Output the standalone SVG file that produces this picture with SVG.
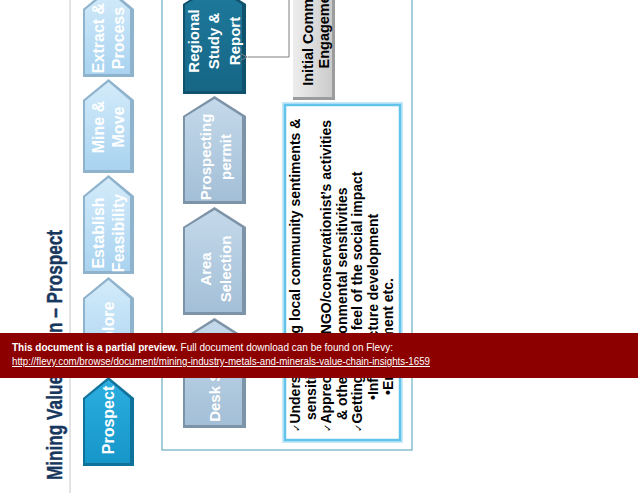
<svg xmlns="http://www.w3.org/2000/svg" width="638" height="493" viewBox="0 0 638 493">
<style>
  text { font-family: "Liberation Sans", Arial, sans-serif; font-weight: bold; }
  .lbl16 { font-size: 16px; fill: #ffffff; text-anchor: middle; }
  .lbl15 { font-size: 15px; fill: #ffffff; text-anchor: middle; }
  .blt { font-size: 14px; fill: #000000; }
  .ck { font-size: 10px; font-family: "DejaVu Sans", sans-serif; font-weight: normal; }
  .ice { font-size: 14.5px; fill: #000000; text-anchor: middle; }
  .ban { font-size: 10px; fill: #ffffff; }
  .reg { font-weight: normal; }
  .bevL { fill: #8FB2CD; }
  .faceL { fill: url(#gL); }
  .bevG { fill: #7D93A7; }
  .faceG { fill: url(#gG); }
  .conn { fill: none; stroke: #7F7F7F; stroke-width: 1; }
</style>
<defs>
  <linearGradient id="gL" x1="0" y1="0" x2="0" y2="1">
    <stop offset="0" stop-color="#D3EBFA"/>
    <stop offset="1" stop-color="#A9D3F0"/>
  </linearGradient>
  <linearGradient id="gG" x1="0" y1="0" x2="0" y2="1">
    <stop offset="0" stop-color="#C4D9EA"/>
    <stop offset="1" stop-color="#A3BFD7"/>
  </linearGradient>
  <linearGradient id="gR" x1="0" y1="0" x2="0" y2="1">
    <stop offset="0" stop-color="#1E7A9D"/>
    <stop offset="1" stop-color="#166685"/>
  </linearGradient>
  <linearGradient id="gP" x1="0" y1="0" x2="0" y2="1">
    <stop offset="0" stop-color="#2CAEE0"/>
    <stop offset="1" stop-color="#1696C9"/>
  </linearGradient>
  <linearGradient id="gI" x1="0" y1="0" x2="1" y2="0">
    <stop offset="0" stop-color="#EDEDED"/>
    <stop offset="1" stop-color="#CBCBCB"/>
  </linearGradient>
  <marker id="arr" markerWidth="8" markerHeight="8" refX="0" refY="4" orient="auto-start-reverse" markerUnits="userSpaceOnUse">
    <path d="M7,0.5 L0.5,4 L7,7.5" fill="none" stroke="#7F7F7F" stroke-width="1"/>
  </marker>
</defs>

<rect width="638" height="493" fill="#ffffff"/>

<!-- title -->
<g id="title">
  <text transform="translate(62,480) rotate(-90)" font-size="22" fill="#17375E" stroke="#17375E" stroke-width="0.4" textLength="250" lengthAdjust="spacingAndGlyphs">Mining Value Chain – Prospect</text>
</g>
<line x1="70" y1="0" x2="70" y2="493" stroke="#C8C8C8" stroke-width="1"/>

<!-- value chain (left column) -->
<g id="extract">
  <polygon class="bevL" points="83,77 83,9 108.5,-12 134,9 134,77"/>
  <polygon class="faceL" points="85,74 85,10 108.5,-9 130,9.5 130,74"/>
  <text class="lbl16" transform="translate(104,38) rotate(-90)">Extract &amp;</text>
  <text class="lbl16" transform="translate(124,38) rotate(-90)">Process</text>
</g>
<g id="mine">
  <polygon class="bevL" points="83,173 83,100 108.5,79 134,100 134,173"/>
  <polygon class="faceL" points="85,170 85,101 108.5,82 130,100.5 130,170"/>
  <text class="lbl16" transform="translate(104,127) rotate(-90)">Mine &amp;</text>
  <text class="lbl16" transform="translate(124,127) rotate(-90)">Move</text>
</g>
<g id="establish">
  <polygon class="bevL" points="83,274 83,196 108.5,175 134,196 134,274"/>
  <polygon class="faceL" points="85,271 85,197 108.5,178 130,196.5 130,271"/>
  <text class="lbl16" transform="translate(104,233) rotate(-90)">Establish</text>
  <text class="lbl16" transform="translate(124,233) rotate(-90)">Feasibility</text>
</g>
<g id="explore">
  <polygon class="bevL" points="83,373 83,298 108.5,277 134,298 134,373"/>
  <polygon class="faceL" points="85,370 85,299 108.5,280 130,298.5 130,370"/>
  <text class="lbl16" transform="translate(114,331) rotate(-90)">Explore</text>
</g>
<g id="prospect">
  <polygon fill="#0F729B" points="83,466 83,398 108.5,377 134,398 134,466"/>
  <polygon fill="url(#gP)" points="85,463 85,399 108.5,380 130,398.5 130,463"/>
  <text class="lbl16" transform="translate(114,420) rotate(-90)">Prospect</text>
</g>

<!-- frame -->
<rect x="162" y="-10" width="250" height="460" fill="none" stroke="#4E9DB6" stroke-width="1"/>

<!-- prospect steps -->
<g id="regional">
  <polygon fill="#0F526D" points="183,94 183,4 214.5,-16 246,4 246,94"/>
  <polygon fill="url(#gR)" points="185,91 185,5 214.5,-13 242,4.5 242,91"/>
  <text class="lbl15" transform="translate(199,41) rotate(-90)">Regional</text>
  <text class="lbl15" transform="translate(219,41) rotate(-90)">Study &amp;</text>
  <text class="lbl15" transform="translate(239.5,41) rotate(-90)">Report</text>
</g>
<g id="permit">
  <polygon class="bevG" points="183,204 183,116 214.5,96 246,116 246,204"/>
  <polygon class="faceG" points="185,201 185,117 214.5,99 242,116.5 242,201"/>
  <text class="lbl15" transform="translate(210.5,157) rotate(-90)">Prospecting</text>
  <text class="lbl15" transform="translate(230.5,157) rotate(-90)">permit</text>
</g>
<g id="area">
  <polygon class="bevG" points="183,315 183,227 214.5,207 246,227 246,315"/>
  <polygon class="faceG" points="185,312 185,228 214.5,210 242,227.5 242,312"/>
  <text class="lbl15" transform="translate(211,269) rotate(-90)">Area</text>
  <text class="lbl15" transform="translate(231,269) rotate(-90)">Selection</text>
</g>
<g id="desk">
  <polygon class="bevG" points="183,428 183,338 214.5,318 246,338 246,428"/>
  <polygon class="faceG" points="185,425 185,339 214.5,321 242,338.5 242,425"/>
  <text class="lbl15" transform="translate(220,381) rotate(-90)">Desk Study</text>
</g>

<!-- initial community engagement -->
<g id="engagement">
  <rect x="293" y="-10" width="42" height="110" fill="#9C9C9C"/>
  <rect x="293" y="-10" width="39" height="107" fill="url(#gI)"/>
  <text class="ice" transform="translate(312.5,25) rotate(-90)">Initial Community</text>
  <text class="ice" transform="translate(328.5,25) rotate(-90)">Engagement</text>
</g>

<!-- details box -->
<g id="details">
  <rect x="285" y="105" width="115" height="335" fill="#ffffff" stroke="#C6E9F8" stroke-width="6"/>
  <rect x="285" y="105" width="115" height="335" fill="#ffffff" stroke="#62C3EB" stroke-width="2.5"/>
  <text class="blt" transform="translate(300,432) rotate(-90)"><tspan class="ck">✓</tspan>Understanding local community sentiments &amp;</text>
  <text class="blt" transform="translate(315.5,420) rotate(-90)">sensitivities</text>
  <text class="blt" transform="translate(331,432) rotate(-90)"><tspan class="ck">✓</tspan>Appreciating NGO/conservationist’s activities</text>
  <text class="blt" transform="translate(346.5,420) rotate(-90)">&amp; other environmental sensitivities</text>
  <text class="blt" transform="translate(362,432) rotate(-90)"><tspan class="ck">✓</tspan>Getting a real feel of the social impact</text>
  <text class="blt" transform="translate(377.5,400) rotate(-90)">•Infrastructure development</text>
  <text class="blt" transform="translate(393,395) rotate(-90)">•Employment etc.</text>
</g>

<!-- connectors -->
<g id="connectors">
  <path class="conn" d="M289,-5 L289,57 L247.5,57" marker-end="url(#arr)"/>
</g>

<!-- preview banner -->
<g id="banner">
  <rect x="0" y="333" width="638" height="45" fill="#8C0000"/>
  <text class="ban" x="12" y="351">This document is a partial preview.<tspan class="reg">  Full document download can be found on Flevy:</tspan></text>
  <text class="ban reg" x="12" y="365" text-decoration="underline" textLength="418" lengthAdjust="spacingAndGlyphs">http://flevy.com/browse/document/mining-industry-metals-and-minerals-value-chain-insights-1659</text>
</g>
</svg>
